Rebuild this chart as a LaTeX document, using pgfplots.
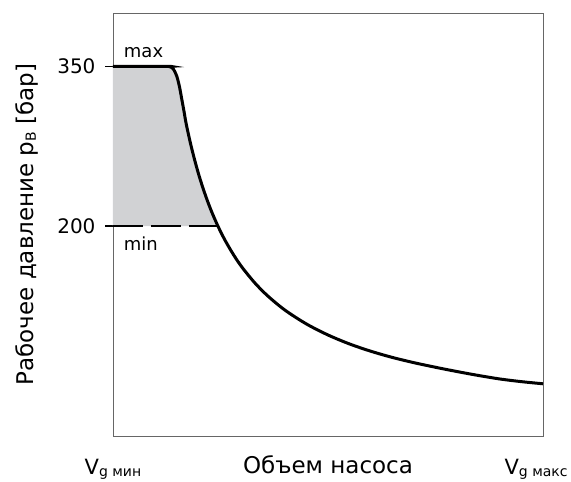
\documentclass[border=0pt]{standalone}
\usepackage{pgfplots}
\pgfplotsset{compat=1.18}
\usepackage{fontspec}
\setmainfont{DejaVu Sans}

\definecolor{shade}{HTML}{D1D2D4}
\newcommand{\sub}[1]{\raisebox{-0.12em}{\fontsize{14bp}{14bp}\selectfont #1}}

\begin{document}
\begin{tikzpicture}
\begin{axis}[
  name=ax,
  scale only axis,
  width=430bp, height=423bp,
  xmin=0, xmax=100, ymin=3, ymax=400,
  axis line style={draw=black!60, line width=0.8bp},
  /pgf/number format/assume math mode=true,
  ytick={200,350},
  ytick pos=left,
  tick align=outside,
  major tick length=8bp,
  ytick style={black, line width=1.2bp},
  yticklabel style={font=\fontsize{20bp}{24bp}\selectfont, xshift=-6bp},
  xtick={0,98.4},
  xtick style={draw=none},
  xticklabels={V\sub{g мин}, V\sub{g макс}},
  xticklabel style={anchor=base, yshift=-30bp, font=\fontsize{21bp}{24bp}\selectfont},
  xlabel={Объем насоса},
  xlabel style={at={(axis description cs:0.5,0)}, anchor=base, yshift=-37bp, font=\fontsize{23bp}{26bp}\selectfont},
  ylabel={Рабочее давление p\sub{B} [бар]},
  ylabel style={at={(axis description cs:-0.186,0.5)}, anchor=base, font=\fontsize{23bp}{26bp}\selectfont},
  clip=false,
]
% shaded region between curve and 200 bar
\addplot[fill=shade, draw=none] coordinates {
  (0,200) (0,350) (12.5,350) (13.0,349.8) (13.6,349) (14.1,347) (14.6,343)
  (15.0,338.5) (15.5,330) (16,319) (16.5,308) (17,296.4) (18,278)
  (19,261.9) (20,247.5) (21,234.8) (22,223.3) (23,212.9) (24.4,200)
} -- cycle;
% min line
\addplot[black, line width=2.2bp, dash pattern=on 30bp off 8bp] coordinates {(0,200) (24.4,200)};
% characteristic
\addplot[black, line width=3bp, smooth, tension=0.5] coordinates {
  (0,350) (12.5,350) (13.0,349.8) (13.6,349) (14.1,347) (14.6,343)
  (15.0,338.5) (15.5,330) (16,319) (16.5,308) (17,296.4) (18,278)
  (19,261.9) (20,247.5) (21,234.8) (22,223.3) (23,212.9) (24.4,200)
  (26,187.1) (28,173.3) (30,161.4) (33,146.6) (36,134.4) (40,121.1)
  (45,108.1) (50,97.8) (55,89.4) (60,82.5) (65,76.7) (70,71.8)
  (75,67.5) (80,63.5) (85,59.8) (90,56.5) (95,54) (100,52)
};
\node[anchor=base west, inner sep=0pt, font=\fontsize{18bp}{20bp}\selectfont] at (axis cs:2.5,358.5) {max};
\node[anchor=base west, inner sep=0pt, font=\fontsize{18bp}{20bp}\selectfont] at (axis cs:2.5,177.5) {min};
\end{axis}
\pgfresetboundingbox
\path ([xshift=-113bp,yshift=-46bp]ax.south west) rectangle ([xshift=28bp,yshift=13bp]ax.north east);
\end{tikzpicture}
\end{document}
